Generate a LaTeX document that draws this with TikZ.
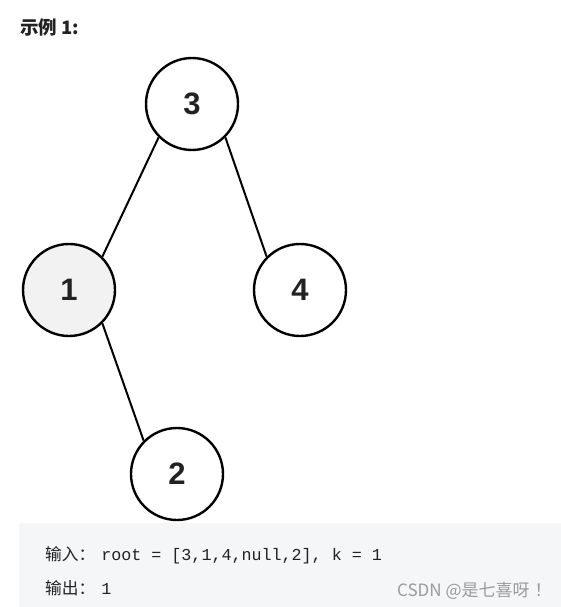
\documentclass[tikz,border=0pt]{standalone}
\usepackage{fontspec}
\setmainfont{Liberation Sans}
\setmonofont{Liberation Mono}
\newfontfamily\cjk{Noto Sans CJK SC}
\usetikzlibrary{positioning}
\definecolor{codegray}{RGB}{245, 246, 247}
\definecolor{markgray}{RGB}{155, 155, 155}
\definecolor{textdark}{RGB}{34, 34, 34}
\definecolor{leafgray}{RGB}{242, 242, 242}

\begin{document}
\begin{tikzpicture}[x=1pt, y=-1pt,
    treenode/.style={circle, draw, line width=2.4pt, minimum size=92pt, inner sep=0pt, fill=white, text=textdark, font=\fontsize{31}{31}\selectfont\bfseries},
    treeedge/.style={line width=2pt},
    plaintext/.style={anchor=west, inner sep=0pt, text=textdark}]
    \useasboundingbox (0,0) rectangle (560,607);

    % --- Title ---
    \node[plaintext, font=\cjk\fontsize{18.5}{19}\selectfont\bfseries] (title) at (20,27) {示例 1:};

    % --- Tree ---
    \node[treenode] (n3) at (192,104) {3};
    \node[treenode, fill=leafgray] (n1) at (69,290) {1};
    \node[treenode] (n4) at (300,290) {4};
    \node[treenode] (n2) at (177,474) {2};

    \draw[treeedge] (n3.225) -- (n1.45);
    \draw[treeedge] (n3.315) -- (n4.135);
    \draw[treeedge] (n1.315) -- (n2.135);

    % --- Code box ---
    \fill[codegray, rounded corners=3pt] (19,523) rectangle (566,613);
    \node[plaintext, font=\fontsize{16.7}{17}\selectfont] (inp) at (45,555) {{\cjk 输入：}\hspace{6pt}\texttt{root = [3,1,4,null,2], k = 1}};
    \node[plaintext, font=\fontsize{16.7}{17}\selectfont] (outp) at (45,588) {{\cjk 输出：}\hspace{6pt}\texttt{1}};
    \node[plaintext, text=markgray, font=\cjk\fontsize{17}{17}\selectfont] (mark) at (397,591) {CSDN @是七喜呀\hspace{5pt}！};
\end{tikzpicture}
\end{document}
